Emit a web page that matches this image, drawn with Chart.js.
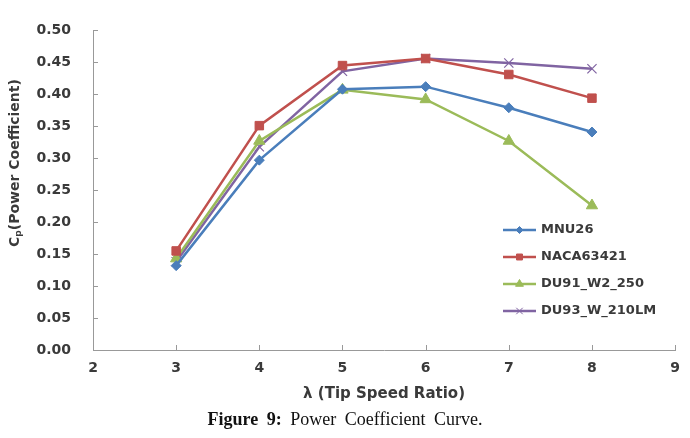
<!DOCTYPE html>
<html>
<head>
<meta charset="utf-8">
<script src="https://cdn.jsdelivr.net/npm/chart.js@4/dist/chart.umd.min.js"></script>
<style>
  html, body { margin:0; padding:0; background:#fff; }
  #wrap { position:relative; width:690px; height:438px; }
  #caption { position:absolute; left:0; width:690px; top:409px; text-align:center;
    font-family:"Liberation Serif","DejaVu Serif",serif; font-size:18px; color:#111; word-spacing:4px; }
</style>
</head>
<body>
<div id="wrap">
  <canvas id="c" width="690" height="438"></canvas>
  <div id="caption"><b>Figure 9:</b> Power Coefficient Curve.</div>
</div>
<script>
const tsr = [3, 4, 5, 6, 7, 8];
const mnu26 = [0.132, 0.297, 0.408, 0.412, 0.379, 0.341];
const naca63421 = [0.155, 0.351, 0.445, 0.456, 0.431, 0.394];
const du91 = [0.143, 0.327, 0.407, 0.392, 0.327, 0.226];
const du93 = [0.138, 0.318, 0.436, 0.456, 0.449, 0.440];
const seriesNames = ['MNU26', 'NACA63421', 'DU91_W2_250', 'DU93_W_210LM'];
const xTitle = 'λ (Tip Speed Ratio)';
const yTitleMain = 'C';
const yTitleSub = 'p';
const yTitleRest = '(Power Coefficient)';

const FONT = '"DejaVu Sans", sans-serif';
const TXT = '#3a3a3a';
const AXIS = '#999999';

function pts(vals) { return tsr.map((x, i) => ({x: x, y: vals[i]})); }

const styles = [
  {color:'#4a7ebb', style:'rectRot', r:5},
  {color:'#c0504d', style:'rect', r:6},
  {color:'#9bbb59', style:'triangle', r:6.5},
  {color:'#8064a2', style:'crossRot', r:6.5}
];
const allVals = [mnu26, naca63421, du91, du93];

const datasets = allVals.map((v, i) => ({
  label: seriesNames[i],
  data: pts(v),
  borderColor: styles[i].color,
  backgroundColor: styles[i].color,
  borderWidth: 2.5,
  pointStyle: styles[i].style,
  pointRadius: styles[i].r,
  pointBorderWidth: i === 3 ? 1.2 : 1,
  pointBorderColor: styles[i].color,
  pointBackgroundColor: styles[i].color,
  tension: 0
}));

const extras = {
  id: 'extras',
  afterDraw(chart) {
    const ctx = chart.ctx;
    const xs = chart.scales.x, ys = chart.scales.y;
    const ca = chart.chartArea;
    ctx.save();
    ctx.strokeStyle = AXIS; ctx.lineWidth = 1;
    ys.ticks.forEach(t => {
      const y = Math.round(ys.getPixelForValue(t.value)) + 0.5;
      ctx.beginPath(); ctx.moveTo(ca.left, y); ctx.lineTo(ca.left + 5, y); ctx.stroke();
    });
    xs.ticks.forEach(t => {
      const x = Math.round(xs.getPixelForValue(t.value)) + 0.5;
      ctx.beginPath(); ctx.moveTo(x, ca.bottom); ctx.lineTo(x, ca.bottom - 5); ctx.stroke();
    });
    ctx.fillStyle = TXT;
    ctx.font = 'bold 15px ' + FONT;
    ctx.textAlign = 'center'; ctx.textBaseline = 'middle';
    ctx.fillText(xTitle, (ca.left + ca.right) / 2, 394);
    ctx.save();
    ctx.translate(15, 163);
    ctx.rotate(-Math.PI / 2);
    ctx.font = 'bold 14px ' + FONT;
    const wMain = ctx.measureText(yTitleMain).width;
    ctx.font = 'bold 9px ' + FONT;
    const wSub = ctx.measureText(yTitleSub).width;
    ctx.font = 'bold 14px ' + FONT;
    const wRest = ctx.measureText(yTitleRest).width;
    const total = wMain + wSub + wRest;
    let cx = -total / 2;
    ctx.textAlign = 'left'; ctx.textBaseline = 'middle';
    ctx.fillText(yTitleMain, cx, 0); cx += wMain;
    ctx.font = 'bold 9px ' + FONT;
    ctx.fillText(yTitleSub, cx, 4); cx += wSub;
    ctx.font = 'bold 14px ' + FONT;
    ctx.fillText(yTitleRest, cx, 0);
    ctx.restore();
    const lx = 503, ly = [230, 257, 284, 311];
    chart.data.datasets.forEach((ds, i) => {
      const y = ly[i];
      ctx.strokeStyle = ds.borderColor; ctx.lineWidth = 2.5;
      ctx.beginPath(); ctx.moveTo(lx, y); ctx.lineTo(lx + 33, y); ctx.stroke();
      ctx.fillStyle = ds.backgroundColor;
      ctx.lineWidth = 1;
      Chart.helpers.drawPoint(ctx, {pointStyle: ds.pointStyle, radius: ds.pointRadius * 0.7, borderWidth: 1, rotation: 0}, lx + 16.5, y);
      ctx.fillStyle = TXT;
      ctx.font = 'bold 13px ' + FONT;
      ctx.textAlign = 'left'; ctx.textBaseline = 'middle';
      ctx.fillText(ds.label, lx + 38, y);
    });
    ctx.restore();
  }
};

new Chart(document.getElementById('c'), {
  type: 'line',
  data: { datasets: datasets },
  options: {
    responsive: false,
    animation: false,
    layout: { padding: { left: 0, top: 12, right: 14, bottom: 0 } },
    plugins: { legend: { display: false }, tooltip: { enabled: false } },
    scales: {
      x: {
        type: 'linear', min: 2, max: 9,
        afterFit(s) { s.height = 88; },
        grid: { display: true, drawOnChartArea: false, drawTicks: false },
        border: { display: true, color: AXIS, width: 1 },
        ticks: { stepSize: 1, padding: 10, color: TXT, font: { family: FONT, size: 14, weight: 'bold' } }
      },
      y: {
        min: 0, max: 0.5,
        afterFit(s) { s.width = 93; },
        grid: { display: true, drawOnChartArea: false, drawTicks: false },
        border: { display: true, color: AXIS, width: 1 },
        ticks: { stepSize: 0.05, padding: 22, color: TXT, font: { family: FONT, size: 14, weight: 'bold' },
          callback: v => Number(v).toFixed(2) }
      }
    }
  },
  plugins: [extras]
});
</script>
</body>
</html>
